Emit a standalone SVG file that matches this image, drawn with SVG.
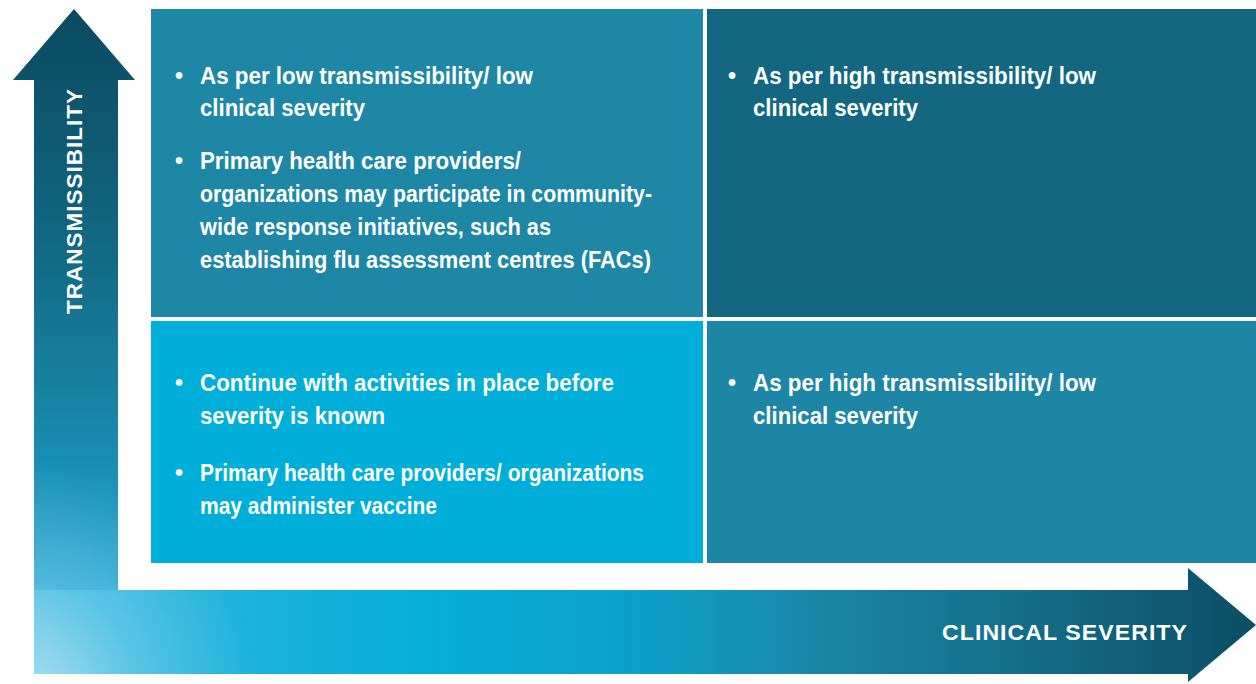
<svg xmlns="http://www.w3.org/2000/svg" width="1256" height="684" viewBox="0 0 1256 684">
<defs>
<style>
.t{font-family:"Liberation Sans",Arial,sans-serif;font-weight:bold;font-size:23px;fill:#ffffff}
.ax{font-family:"Liberation Sans",Arial,sans-serif;font-weight:bold;font-size:22px;fill:#ffffff;letter-spacing:1px}
</style>
<linearGradient id="gv" x1="0" y1="9" x2="0" y2="590" gradientUnits="userSpaceOnUse">
<stop offset="0" stop-color="#0b4a60"/>
<stop offset="0.35" stop-color="#10637d"/>
<stop offset="0.65" stop-color="#17809f"/>
<stop offset="0.88" stop-color="#1b99c1"/>
<stop offset="1" stop-color="#1ea6d2"/>
</linearGradient>
<linearGradient id="gh" x1="34" y1="0" x2="1256" y2="0" gradientUnits="userSpaceOnUse">
<stop offset="0" stop-color="#35b5de"/>
<stop offset="0.15" stop-color="#1fb2dc"/>
<stop offset="0.32" stop-color="#06afd8"/>
<stop offset="0.5" stop-color="#0d9fc8"/>
<stop offset="0.65" stop-color="#1a85a5"/>
<stop offset="0.8" stop-color="#156f8a"/>
<stop offset="0.95" stop-color="#0e566f"/>
<stop offset="1" stop-color="#0c4d63"/>
</linearGradient>
<radialGradient id="gl" cx="20" cy="700" r="240" gradientUnits="userSpaceOnUse">
<stop offset="0" stop-color="#ffffff" stop-opacity="0.6"/>
<stop offset="0.5" stop-color="#ffffff" stop-opacity="0.22"/>
<stop offset="1" stop-color="#ffffff" stop-opacity="0"/>
</radialGradient>
</defs>
<rect width="1256" height="684" fill="#ffffff"/>
<g id="axes">
<path d="M74,9 L135,80 L118,80 L118,591 L34,591 L34,80 L13,80 Z" fill="url(#gv)"/>
<path d="M34,590 L1188,590 L1188,568 L1256,625 L1188,682 L1188,674 L34,674 Z" fill="url(#gh)"/>
<path d="M74,9 L135,80 L118,80 L118,590 L1188,590 L1188,568 L1256,625 L1188,682 L1188,674 L34,674 L34,80 L13,80 Z" fill="url(#gl)"/>
<text class="ax" transform="translate(82,201) rotate(-90)" text-anchor="middle" textLength="226" lengthAdjust="spacingAndGlyphs">TRANSMISSIBILITY</text>
<text class="ax" x="942" y="640" textLength="246" lengthAdjust="spacingAndGlyphs">CLINICAL SEVERITY</text>
</g>
<g id="q-top-left">
<rect x="151" y="9" width="552" height="308" fill="#1e87a6"/>
<text class="t" x="175" y="84">•</text>
<text class="t" x="200" y="84" textLength="333" lengthAdjust="spacingAndGlyphs">As per low transmissibility/ low</text>
<text class="t" x="200" y="116" textLength="165" lengthAdjust="spacingAndGlyphs">clinical severity</text>
<text class="t" x="175" y="169">•</text>
<text class="t" x="200" y="169" textLength="321" lengthAdjust="spacingAndGlyphs">Primary health care providers/</text>
<text class="t" x="200" y="202" textLength="452" lengthAdjust="spacingAndGlyphs">organizations may participate in community-</text>
<text class="t" x="200" y="235" textLength="351" lengthAdjust="spacingAndGlyphs">wide response initiatives, such as</text>
<text class="t" x="200" y="268" textLength="451" lengthAdjust="spacingAndGlyphs">establishing flu assessment centres (FACs)</text>
</g>
<g id="q-top-right">
<rect x="707" y="9" width="549" height="308" fill="#136781"/>
<text class="t" x="728" y="84">•</text>
<text class="t" x="753" y="84" textLength="343" lengthAdjust="spacingAndGlyphs">As per high transmissibility/ low</text>
<text class="t" x="753" y="116" textLength="165" lengthAdjust="spacingAndGlyphs">clinical severity</text>
</g>
<g id="q-bottom-left">
<rect x="151" y="321" width="552" height="242" fill="#00afd9"/>
<text class="t" x="175" y="391">•</text>
<text class="t" x="200" y="391" textLength="414" lengthAdjust="spacingAndGlyphs">Continue with activities in place before</text>
<text class="t" x="200" y="424" textLength="185" lengthAdjust="spacingAndGlyphs">severity is known</text>
<text class="t" x="175" y="481">•</text>
<text class="t" x="200" y="481" textLength="444" lengthAdjust="spacingAndGlyphs">Primary health care providers/ organizations</text>
<text class="t" x="200" y="514" textLength="237" lengthAdjust="spacingAndGlyphs">may administer vaccine</text>
</g>
<g id="q-bottom-right">
<rect x="707" y="321" width="549" height="242" fill="#1d86a5"/>
<text class="t" x="728" y="391">•</text>
<text class="t" x="753" y="391" textLength="343" lengthAdjust="spacingAndGlyphs">As per high transmissibility/ low</text>
<text class="t" x="753" y="424" textLength="165" lengthAdjust="spacingAndGlyphs">clinical severity</text>
</g>
<g id="connectors"></g>
</svg>
